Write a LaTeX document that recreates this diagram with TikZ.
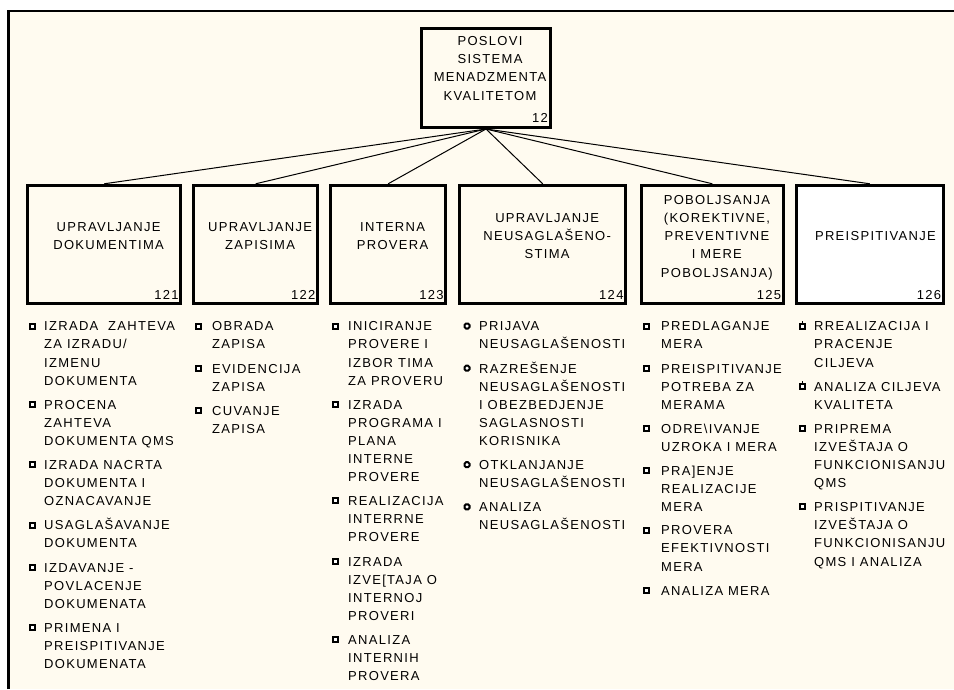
\documentclass[tikz,border=0pt]{standalone}
\usepackage{fontspec}
\newfontfamily\uifont[LetterSpace=10]{Liberation Sans}
\definecolor{paper}{RGB}{255,251,240}

% one bulleted entry of a task list:
% #1 name, #2 bullet style, #3 bullet x, #4 text x, #5 centre y of first line, #6 text
\newcommand\listentry[6]{%
  \node[#2] (#1b) at (#3,#5) {};
  \node[itemtext] (#1) at (#4,#5-8) {\strut #6};
}

\begin{document}
\begin{tikzpicture}[x=1pt,y=-1pt,
  uitext/.style={font=\uifont\fontsize{13}{18.1}\selectfont, text=black, inner sep=0pt},
  taskbox/.style={draw=black, line width=3pt, fill=paper, inner sep=0pt, rectangle},
  boxtext/.style={uitext, align=center, anchor=north},
  numtext/.style={uitext, anchor=base east},
  itemtext/.style={uitext, align=left, anchor=north west},
  sqbul/.style={draw=black, fill=white, line width=2pt, minimum size=5pt, inner sep=0pt, rectangle},
  rndbul/.style={sqbul, rounded corners=1.5pt},
  conn/.style={draw=black, line width=1pt},
]
\useasboundingbox (0,0) rectangle (954,689);
\fill[white] (0,0) rectangle (954,689);
\fill[paper] (8.7,11) rectangle (954,689);
\draw[line width=2.5pt] (8.7,689) -- (8.7,11) -- (954,11);

% root task
\node[taskbox, minimum width=129pt, minimum height=99pt] (root) at (486,78) {};
\node[boxtext] (roott) at (490,32.85) {\strut POSLOVI\\SISTEMA\\MENADZMENTA\\KVALITETOM};
\node[numtext] (rootn) at (548,122.7) {12};

% sub-tasks
\node[taskbox, minimum width=153.3pt, minimum height=117.7pt] (b1) at (104.15,244.15) {};
\node[taskbox, minimum width=123.7pt, minimum height=117.7pt] (b2) at (255.65,244.15) {};
\node[taskbox, minimum width=115.3pt, minimum height=117.7pt] (b3) at (388.15,244.15) {};
\node[taskbox, minimum width=165.9pt, minimum height=117.7pt] (b4) at (542.75,244.15) {};
\node[taskbox, minimum width=141.8pt, minimum height=117.7pt] (b5) at (712.4,244.15) {};
\node[taskbox, fill=white, minimum width=146.8pt, minimum height=117.7pt] (b6) at (869.9,244.15) {};

\node[boxtext] (b1t) at (108.6,218.95) {\strut UPRAVLJANJE\\DOKUMENTIMA};
\node[boxtext] (b2t) at (260.1,218.95) {\strut UPRAVLJANJE\\ZAPISIMA};
\node[boxtext] (b3t) at (392.6,218.95) {\strut INTERNA\\PROVERA};
\node[boxtext] (b4t) at (547.2,209.9) {\strut UPRAVLJANJE\\NEUSAGLAŠENO-\\STIMA};
\node[boxtext] (b5t) at (716.9,191.8) {\strut POBOLJSANJA\\(KOREKTIVNE,\\PREVENTIVNE\\I MERE\\POBOLJSANJA)};
\node[boxtext] (b6t) at (875.4,228) {\strut PREISPITIVANJE};

\node[numtext] (b1n) at (178.8,299.7) {121};
\node[numtext] (b2n) at (315.5,299.7) {122};
\node[numtext] (b3n) at (443.8,299.7) {123};
\node[numtext] (b4n) at (623.7,299.7) {124};
\node[numtext] (b5n) at (781.3,299.7) {125};
\node[numtext] (b6n) at (941.3,299.7) {126};

% hierarchy connectors
\foreach \b in {b1,b2,b3,b4,b5,b6}
  \draw[conn] (root.south) -- (\b.north);

% task lists
\listentry{c1i1}{sqbul}{32}{44}{326}{IZRADA\ \ ZAHTEVA\\ZA IZRADU/\\IZMENU\\DOKUMENTA}
\listentry{c1i2}{sqbul}{32}{44}{404.4}{PROCENA\\ZAHTEVA\\DOKUMENTA QMS}
\listentry{c1i3}{sqbul}{32}{44}{464.7}{IZRADA NACRTA\\DOKUMENTA I\\OZNACAVANJE}
\listentry{c1i4}{sqbul}{32}{44}{525}{USAGLAŠAVANJE\\DOKUMENTA}
\listentry{c1i5}{sqbul}{32}{44}{567.2}{IZDAVANJE -\\POVLACENJE\\DOKUMENATA}
\listentry{c1i6}{sqbul}{32}{44}{627.5}{PRIMENA I\\PREISPITIVANJE\\DOKUMENATA}

\listentry{c2i1}{sqbul}{198}{212}{326}{OBRADA\\ZAPISA}
\listentry{c2i2}{sqbul}{198}{212}{368.2}{EVIDENCIJA\\ZAPISA}
\listentry{c2i3}{sqbul}{198}{212}{410.4}{CUVANJE\\ZAPISA}

\listentry{c3i1}{sqbul}{335}{348}{326}{INICIRANJE\\PROVERE I\\IZBOR TIMA\\ZA PROVERU}
\listentry{c3i2}{sqbul}{335}{348}{404.4}{IZRADA\\PROGRAMA I\\PLANA\\INTERNE\\PROVERE}
\listentry{c3i3}{sqbul}{335}{348}{500.9}{REALIZACIJA\\INTERRNE\\PROVERE}
\listentry{c3i4}{sqbul}{335}{348}{561.2}{IZRADA\\IZVE[TAJA O\\INTERNOJ\\PROVERI}
\listentry{c3i5}{sqbul}{335}{348}{639.6}{ANALIZA\\INTERNIH\\PROVERA}

\listentry{c4i1}{rndbul}{467}{479}{326}{PRIJAVA\\NEUSAGLAŠENOSTI}
\listentry{c4i2}{rndbul}{467}{479}{368.2}{RAZREŠENJE\\NEUSAGLAŠENOSTI\\I OBEZBEDJENJE\\SAGLASNOSTI\\KORISNIKA}
\listentry{c4i3}{rndbul}{467}{479}{464.7}{OTKLANJANJE\\NEUSAGLAŠENOSTI}
\listentry{c4i4}{rndbul}{467}{479}{506.9}{ANALIZA\\NEUSAGLAŠENOSTI}

\listentry{c5i1}{sqbul}{646}{661}{326}{PREDLAGANJE\\MERA}
\listentry{c5i2}{sqbul}{646}{661}{368.2}{PREISPITIVANJE\\POTREBA ZA\\MERAMA}
\listentry{c5i3}{sqbul}{646}{661}{428.5}{ODRE\textbackslash IVANJE\\UZROKA I MERA}
\listentry{c5i4}{sqbul}{646}{661}{470.7}{PRA]ENJE\\REALIZACIJE\\MERA}
\listentry{c5i5}{sqbul}{646}{661}{530}{PROVERA\\EFEKTIVNOSTI\\MERA}
\listentry{c5i6}{sqbul}{646}{661}{590.5}{ANALIZA MERA}

\listentry{c6i1}{sqbul}{802}{814}{326}{RREALIZACIJA I\\PRACENJE\\CILJEVA}
\listentry{c6i2}{sqbul}{802}{814}{386.3}{ANALIZA CILJEVA\\KVALITETA}
\listentry{c6i3}{sqbul}{802}{814}{428.5}{PRIPREMA\\IZVEŠTAJA O\\FUNKCIONISANJU\\QMS}
\listentry{c6i4}{sqbul}{802}{814}{506.9}{PRISPITIVANJE\\IZVEŠTAJA O\\FUNKCIONISANJU\\QMS I ANALIZA}
% small tabs on the first two bullets of the last list
\draw[line width=1pt] (c6i1b.north) -- ++(0,-1.5);
\draw[line width=1pt] (c6i2b.north) -- ++(0,-1.5);
\end{tikzpicture}
\end{document}
